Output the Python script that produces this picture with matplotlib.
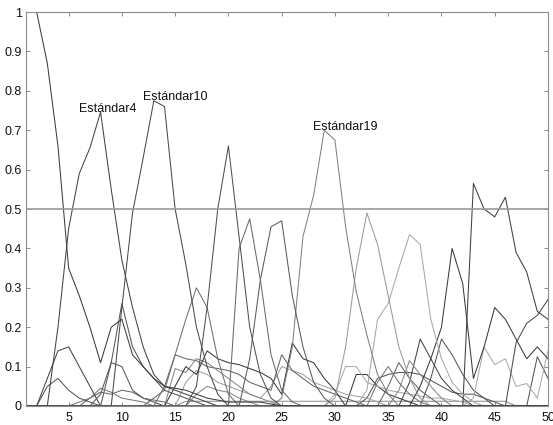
import matplotlib
matplotlib.use("Agg")
import matplotlib.pyplot as plt
import numpy as np

plt.rcParams['font.family'] = ['Liberation Sans', 'DejaVu Sans']

x = list(range(1, 51))

s01 = [1.00,1.00,0.87,0.66,0.35,0.28,0.20,0.11,0.20,0.22,0.13,0.10,0.07,0.05,0.045,0.04,0.03,0.02,0.015,0.01,0.01,0.01,0.01,0.005] + [0]*26
s02 = [0,0,0,0.20,0.45,0.59,0.655,0.746,0.55,0.37,0.25,0.15,0.08,0.05,0.04,0.03,0.02,0.01] + [0]*32
s03 = [0]*9 + [0.25,0.49,0.63,0.775,0.76,0.50,0.36,0.20,0.10,0.03] + [0]*31
s04 = [0]*16 + [0.05,0.25,0.50,0.66,0.43,0.20,0.08,0.02] + [0]*26
s05 = [0]*20 + [0.40,0.475,0.32,0.13,0.04,0.01] + [0]*24
s06 = [0]*21 + [0.12,0.32,0.455,0.47,0.28,0.15,0.06,0.02] + [0]*21
s07 = [0]*24 + [0.02,0.15,0.43,0.535,0.70,0.675,0.455,0.29,0.18,0.08,0.03] + [0]*15
s08 = [0]*29 + [0.02,0.15,0.35,0.49,0.41,0.28,0.15,0.07,0.02] + [0]*12
s09 = [0]*32 + [0.04,0.22,0.26,0.35,0.435,0.41,0.22,0.12,0.06,0.03,0.01] + [0]*7
s10 = [0]*37 + [0.05,0.12,0.20,0.40,0.31,0.07,0.15,0.25,0.22,0.17,0.12,0.15,0.12]
s11 = [0]*42 + [0.565,0.50,0.48,0.53,0.39,0.34,0.24,0.22]
s12 = [0]*13 + [0.05,0.13,0.22,0.30,0.25,0.12,0.03] + [0]*30
s13 = [0]*7 + [0.03,0.11,0.26,0.15,0.10,0.07,0.04,0.03,0.02,0.01] + [0]*33
s14 = [0,0,0.07,0.14,0.15,0.10,0.05] + [0]*43
s15 = [0,0,0.05,0.07,0.04,0.02,0.01] + [0]*43
s16 = [0]*46 + [0.16,0.21,0.23,0.27]
s17 = [0]*42 + [0.02,0.15,0.105,0.12,0.05,0.057,0.02,0.14]
s18 = [0]*48 + [0.125,0.07]
s19 = [0]*5 + [0.01,0.02,0.045,0.035,0.02,0.015,0.01] + [0]*38
s20 = [0]*6 + [0.02,0.035,0.03,0.04,0.035,0.02,0.015,0.01] + [0]*36
s21 = [0]*8 + [0.11,0.10,0.04,0.02,0.01] + [0]*37
s22 = [0]*14 + [0.05,0.10,0.08,0.14,0.12,0.11,0.105,0.095,0.085,0.07,0.03,0.16,0.12,0.11,0.07,0.04] + [0]*20
s23 = [0]*14 + [0.095,0.085,0.12,0.11,0.09,0.07,0.05,0.03,0.02,0.01] + [0]*26
s24 = [0]*12 + [0.02,0.04,0.13,0.12,0.115,0.10,0.095,0.09,0.08,0.06,0.05,0.04,0.13,0.09,0.07,0.05,0.04,0.03,0.02,0.01] + [0]*18
s25 = [0]*15 + [0.06,0.09,0.08,0.06,0.05,0.04,0.03,0.02,0.05,0.10,0.09,0.08,0.06,0.05,0.04,0.03,0.025,0.02,0.01] + [0]*16
s26 = [0]*15 + [0.012]*31 + [0]*4
s27 = [0]*33 + [0.06,0.10,0.06,0.03,0.01] + [0]*12
s28 = [0]*34 + [0.05,0.11,0.07,0.04,0.02] + [0]*11
s29 = [0]*35 + [0.04,0.115,0.08,0.05,0.02] + [0]*10
s30 = [0]*36 + [0.06,0.17,0.12,0.07,0.04,0.02] + [0]*8
s31 = [0]*38 + [0.07,0.17,0.13,0.08,0.04,0.02] + [0]*6
s32 = [0]*32 + [0.02,0.07,0.08,0.085,0.085,0.08,0.065,0.05,0.035,0.03,0.03,0.02,0.01] + [0]*5
s33 = [0]*29 + [0.03,0.10,0.10,0.06,0.05,0.04,0.035,0.03,0.025,0.02,0.02,0.015,0.01] + [0]*8
s34 = [0]*31 + [0.08,0.08,0.05,0.03,0.02,0.01] + [0]*13
s35 = [0]*16 + [0.03,0.05,0.04,0.035,0.02,0.01] + [0]*28

series = [s26, s35, s34, s33, s32, s31, s30, s29, s28, s27, s25, s24, s23, s22,
          s21, s20, s19, s18, s17, s16, s15, s14, s13, s12,
          s11, s10, s09, s08, s07, s06, s05, s04, s03, s02, s01]
colors = ['#909090', '#888888', '#3a3a3a', '#aaaaaa', '#555555', '#555555', '#444444',
          '#888888', '#666666', '#777777', '#a0a0a0', '#666666', '#888888', '#3a3a3a',
          '#555555', '#666666', '#777777', '#555555', '#aaaaaa', '#4a4a4a', '#555555',
          '#444444', '#555555', '#707070',
          '#404040', '#3a3a3a', '#a8a8a8', '#9a9a9a', '#808080', '#5a5a5a', '#6a6a6a',
          '#505050', '#4a4a4a', '#444444', '#3c3c3c']

labels_txt = ['Estándar4', 'Estándar10', 'Estándar19']
labels_pos = [(6.0, 0.755), (12.0, 0.785), (27.9, 0.708)]

xticks = [5, 10, 15, 20, 25, 30, 35, 40, 45, 50]
yticks = [0, 0.1, 0.2, 0.3, 0.4, 0.5, 0.6, 0.7, 0.8, 0.9, 1.0]
ytick_labels = ['0', '0.1', '0.2', '0.3', '0.4', '0.5', '0.6', '0.7', '0.8', '0.9', '1']
threshold = 0.5

fig = plt.figure(figsize=(5.53, 4.25), dpi=100)
ax = fig.add_axes([26/553, 1-406/425, (548-26)/553, (406-12)/425])

for s, c in zip(series, colors):
    assert len(s) == 50
    ax.plot(x, s, color=c, lw=0.75)

ax.axhline(threshold, color='#9a9a9a', lw=1.2)

for t, (tx, ty) in zip(labels_txt, labels_pos):
    ax.text(tx, ty, t, fontsize=9, va='center', ha='left', color='#111111')

ax.set_xlim(1, 50)
ax.set_ylim(0, 1)
ax.set_xticks(xticks)
ax.set_yticks(yticks)
ax.set_yticklabels(ytick_labels)
ax.tick_params(direction='in', top=True, right=True, length=3, width=0.6,
               color='#777777', labelsize=9, labelcolor='#111111')
ax.tick_params(axis='x', pad=4.5)
ax.tick_params(axis='y', pad=3)
for sp in ax.spines.values():
    sp.set_color('#8c8c8c')
    sp.set_linewidth(0.8)

fig.savefig('out.png', dpi=100)
